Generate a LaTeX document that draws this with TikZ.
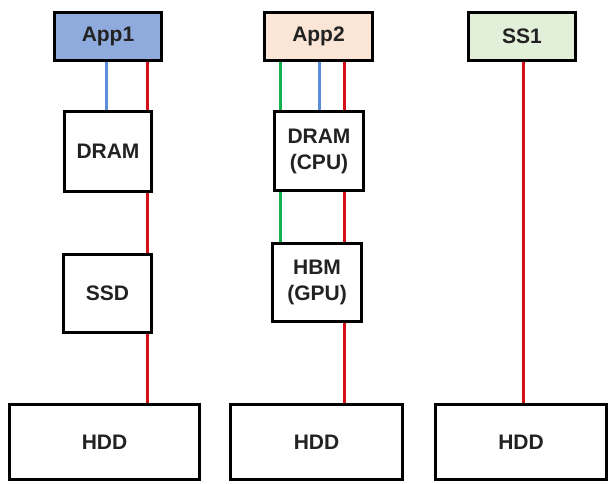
\documentclass[tikz,border=0pt]{standalone}
\usepackage{fontspec}
\setmainfont{Liberation Sans}
\usetikzlibrary{backgrounds}
\definecolor{appblue}{HTML}{8FAADC}
\definecolor{apppeach}{HTML}{FBE5D6}
\definecolor{ssgreen}{HTML}{E2F0D9}
\definecolor{wirered}{HTML}{D40F17}
\definecolor{wireblue}{HTML}{5B8DDB}
\definecolor{wiregreen}{HTML}{12B04E}
\definecolor{labelgray}{HTML}{222222}
\tikzset{
  tier/.style={draw=black, line width=3pt, fill=white, inner sep=0pt,
    text=labelgray, align=center,
    font=\fontsize{21}{26}\selectfont\bfseries},
  wire/.style={line width=3pt}
}
\begin{document}
\begin{tikzpicture}[x=1pt,y=-1pt]
  \useasboundingbox (0,0) rectangle (610,483);
  % top row
  \node[tier, fill=appblue,  minimum width=107pt, minimum height=48pt] (app1) at (108,36.5) {App1};
  \node[tier, fill=apppeach, minimum width=108pt, minimum height=48pt] (app2) at (318.5,36.5) {App2};
  \node[tier, fill=ssgreen,  minimum width=107pt, minimum height=48pt] (ss1) at (522,36.5) {SS1};
  % memory tiers
  \node[tier, minimum width=87pt, minimum height=80pt] (dram1) at (108,151.5) {DRAM};
  \node[tier, minimum width=88pt, minimum height=78pt] (ssd) at (107.5,293.5) {SSD};
  \node[tier, minimum width=89pt, minimum height=79pt] (dram2) at (319,151) {DRAM\\(CPU)};
  \node[tier, minimum width=89pt, minimum height=78pt] (hbm) at (317,282.5) {HBM\\(GPU)};
  % disks
  \node[tier, minimum width=190pt, minimum height=75pt] (hdd1) at (104.5,442) {HDD};
  \node[tier, minimum width=172pt, minimum height=75pt] (hdd2) at (316.5,442) {HDD};
  \node[tier, minimum width=171pt, minimum height=75pt] (hdd3) at (521,442) {HDD};
  % wire positions
  \coordinate (b1) at (106,0);
  \coordinate (r1) at (147,0);
  \coordinate (g2) at (280,0);
  \coordinate (b2) at (319,0);
  \coordinate (r2) at (344,0);
  \coordinate (r3) at (523,0);
  \begin{scope}[on background layer]
    \draw[wire, wireblue] (app1.south -| b1) -- (dram1.north -| b1);
    \draw[wire, wirered] (app1.south -| r1) -- (dram1.north -| r1);
    \draw[wire, wirered] (dram1.south -| r1) -- (ssd.north -| r1);
    \draw[wire, wirered] (ssd.south -| r1) -- (hdd1.north -| r1);
    \draw[wire, wiregreen] (app2.south -| g2) -- (dram2.north -| g2);
    \draw[wire, wireblue] (app2.south -| b2) -- (dram2.north -| b2);
    \draw[wire, wirered] (app2.south -| r2) -- (dram2.north -| r2);
    \draw[wire, wiregreen] (dram2.south -| g2) -- (hbm.north -| g2);
    \draw[wire, wirered] (dram2.south -| r2) -- (hbm.north -| r2);
    \draw[wire, wirered] (hbm.south -| r2) -- (hdd2.north -| r2);
    \draw[wire, wirered] (ss1.south -| r3) -- (hdd3.north -| r3);
  \end{scope}
\end{tikzpicture}
\end{document}
